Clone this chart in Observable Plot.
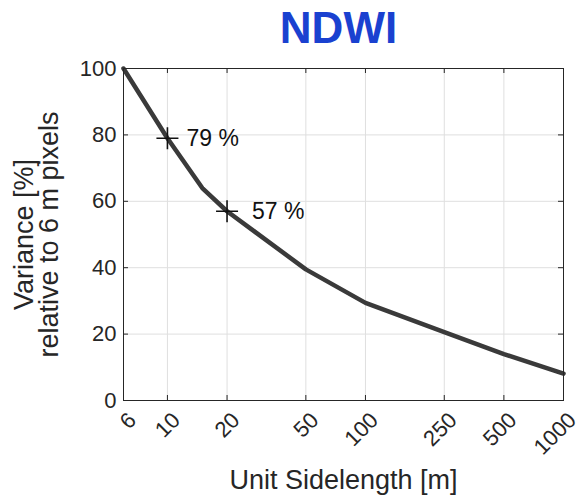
<!DOCTYPE html>
<html>
<head>
<meta charset="utf-8">
<script src="https://cdn.jsdelivr.net/npm/d3@7"></script>
<script src="https://cdn.jsdelivr.net/npm/@observablehq/plot@0.6"></script>
<style>
  html, body { margin: 0; padding: 0; background: #fff; }
  svg { display: block; }
</style>
</head>
<body>
<div id="chart"></div>
<script>
// Data
const sideLengths = [6, 10, 15, 20, 50, 100, 250, 500, 1000];
const variance    = [100, 79, 64, 57, 39.5, 29.4, 20.6, 14, 8.1];
const markedX = [10, 20];
const markedY = [79, 57];
const markedLabels = ["79 %", "57 %"];
const xTicks = [6, 10, 20, 50, 100, 250, 500, 1000];
const yTicks = [0, 20, 40, 60, 80, 100];
const titleText = "NDWI";
const xLabel = "Unit Sidelength [m]";
const yLabel = "Variance [%]\nrelative to 6 m pixels";

const data = sideLengths.map((x, i) => ({x, y: variance[i]}));
const marks = markedX.map((x, i) => ({x, y: markedY[i], label: markedLabels[i]}));

const W = 583, H = 498;
const mL = 123, mR = 20, mT = 68, mB = 98;
const fw = W - mL - mR, fh = H - mT - mB;
const axisColor = "#262626";
const gridColor = "#dfdfdf";

const plusSymbol = {
  draw(ctx, size) {
    const r = Math.sqrt(size / Math.PI);
    ctx.moveTo(-r, 0); ctx.lineTo(r, 0);
    ctx.moveTo(0, -r); ctx.lineTo(0, r);
  }
};

const chart = Plot.plot({
  width: W, height: H,
  marginLeft: mL, marginRight: mR, marginTop: mT, marginBottom: mB,
  style: {fontFamily: "'Liberation Sans', Arial, Helvetica, sans-serif", background: "#fff"},
  x: {type: "log", domain: [6, 1000], axis: null},
  y: {domain: [0, 100], axis: null},
  marks: [
    Plot.gridX(xTicks, {stroke: gridColor, strokeOpacity: 1}),
    Plot.gridY(yTicks, {stroke: gridColor, strokeOpacity: 1}),
    // inward ticks on all four sides
    Plot.ruleX(xTicks, {stroke: axisColor, insetTop: fh - 5}),
    Plot.ruleX(xTicks, {stroke: axisColor, insetBottom: fh - 5}),
    Plot.ruleY(yTicks, {stroke: axisColor, insetRight: fw - 5}),
    Plot.ruleY(yTicks, {stroke: axisColor, insetLeft: fw - 5}),
    Plot.line(data, {x: "x", y: "y", stroke: "#3a3a3a", strokeWidth: 4.5, strokeLinejoin: "round"}),
    Plot.frame({stroke: axisColor, strokeWidth: 1}),
    Plot.dot(marks, {x: "x", y: "y", symbol: plusSymbol, r: 11, stroke: "#111", strokeWidth: 1.6, fill: "none"}),
    Plot.text([marks[0]], {x: "x", y: "y", text: "label", textAnchor: "start", dx: 19, fontSize: 23, fill: "#111"}),
    Plot.text([marks[1]], {x: "x", y: "y", text: "label", textAnchor: "start", dx: 25, fontSize: 23, fill: "#111"}),
    // tick labels
    Plot.text(yTicks, {y: d => d, text: d => String(d), frameAnchor: "left", textAnchor: "end", dx: -7, fontSize: 22, fill: axisColor}),
    Plot.text(xTicks, {x: d => d, text: d => String(d), frameAnchor: "bottom", rotate: -45, textAnchor: "end", lineAnchor: "middle", dx: 9, dy: 16, fontSize: 22, fill: axisColor}),
    // axis labels
    Plot.text([xLabel], {frameAnchor: "bottom", textAnchor: "middle", lineAnchor: "middle", dy: 80, fontSize: 27, fill: axisColor}),
    Plot.text([yLabel], {frameAnchor: "left", textAnchor: "middle", lineAnchor: "middle", rotate: -90, dx: -86, fontSize: 27, lineHeight: 0.93, fill: axisColor}),
    // title
    Plot.text([titleText], {frameAnchor: "top", textAnchor: "middle", lineAnchor: "middle", dx: -5, dy: -40, fontSize: 44, fontWeight: "bold", fill: "#1a41d0"})
  ]
});

document.getElementById("chart").appendChild(chart);
</script>
</body>
</html>
